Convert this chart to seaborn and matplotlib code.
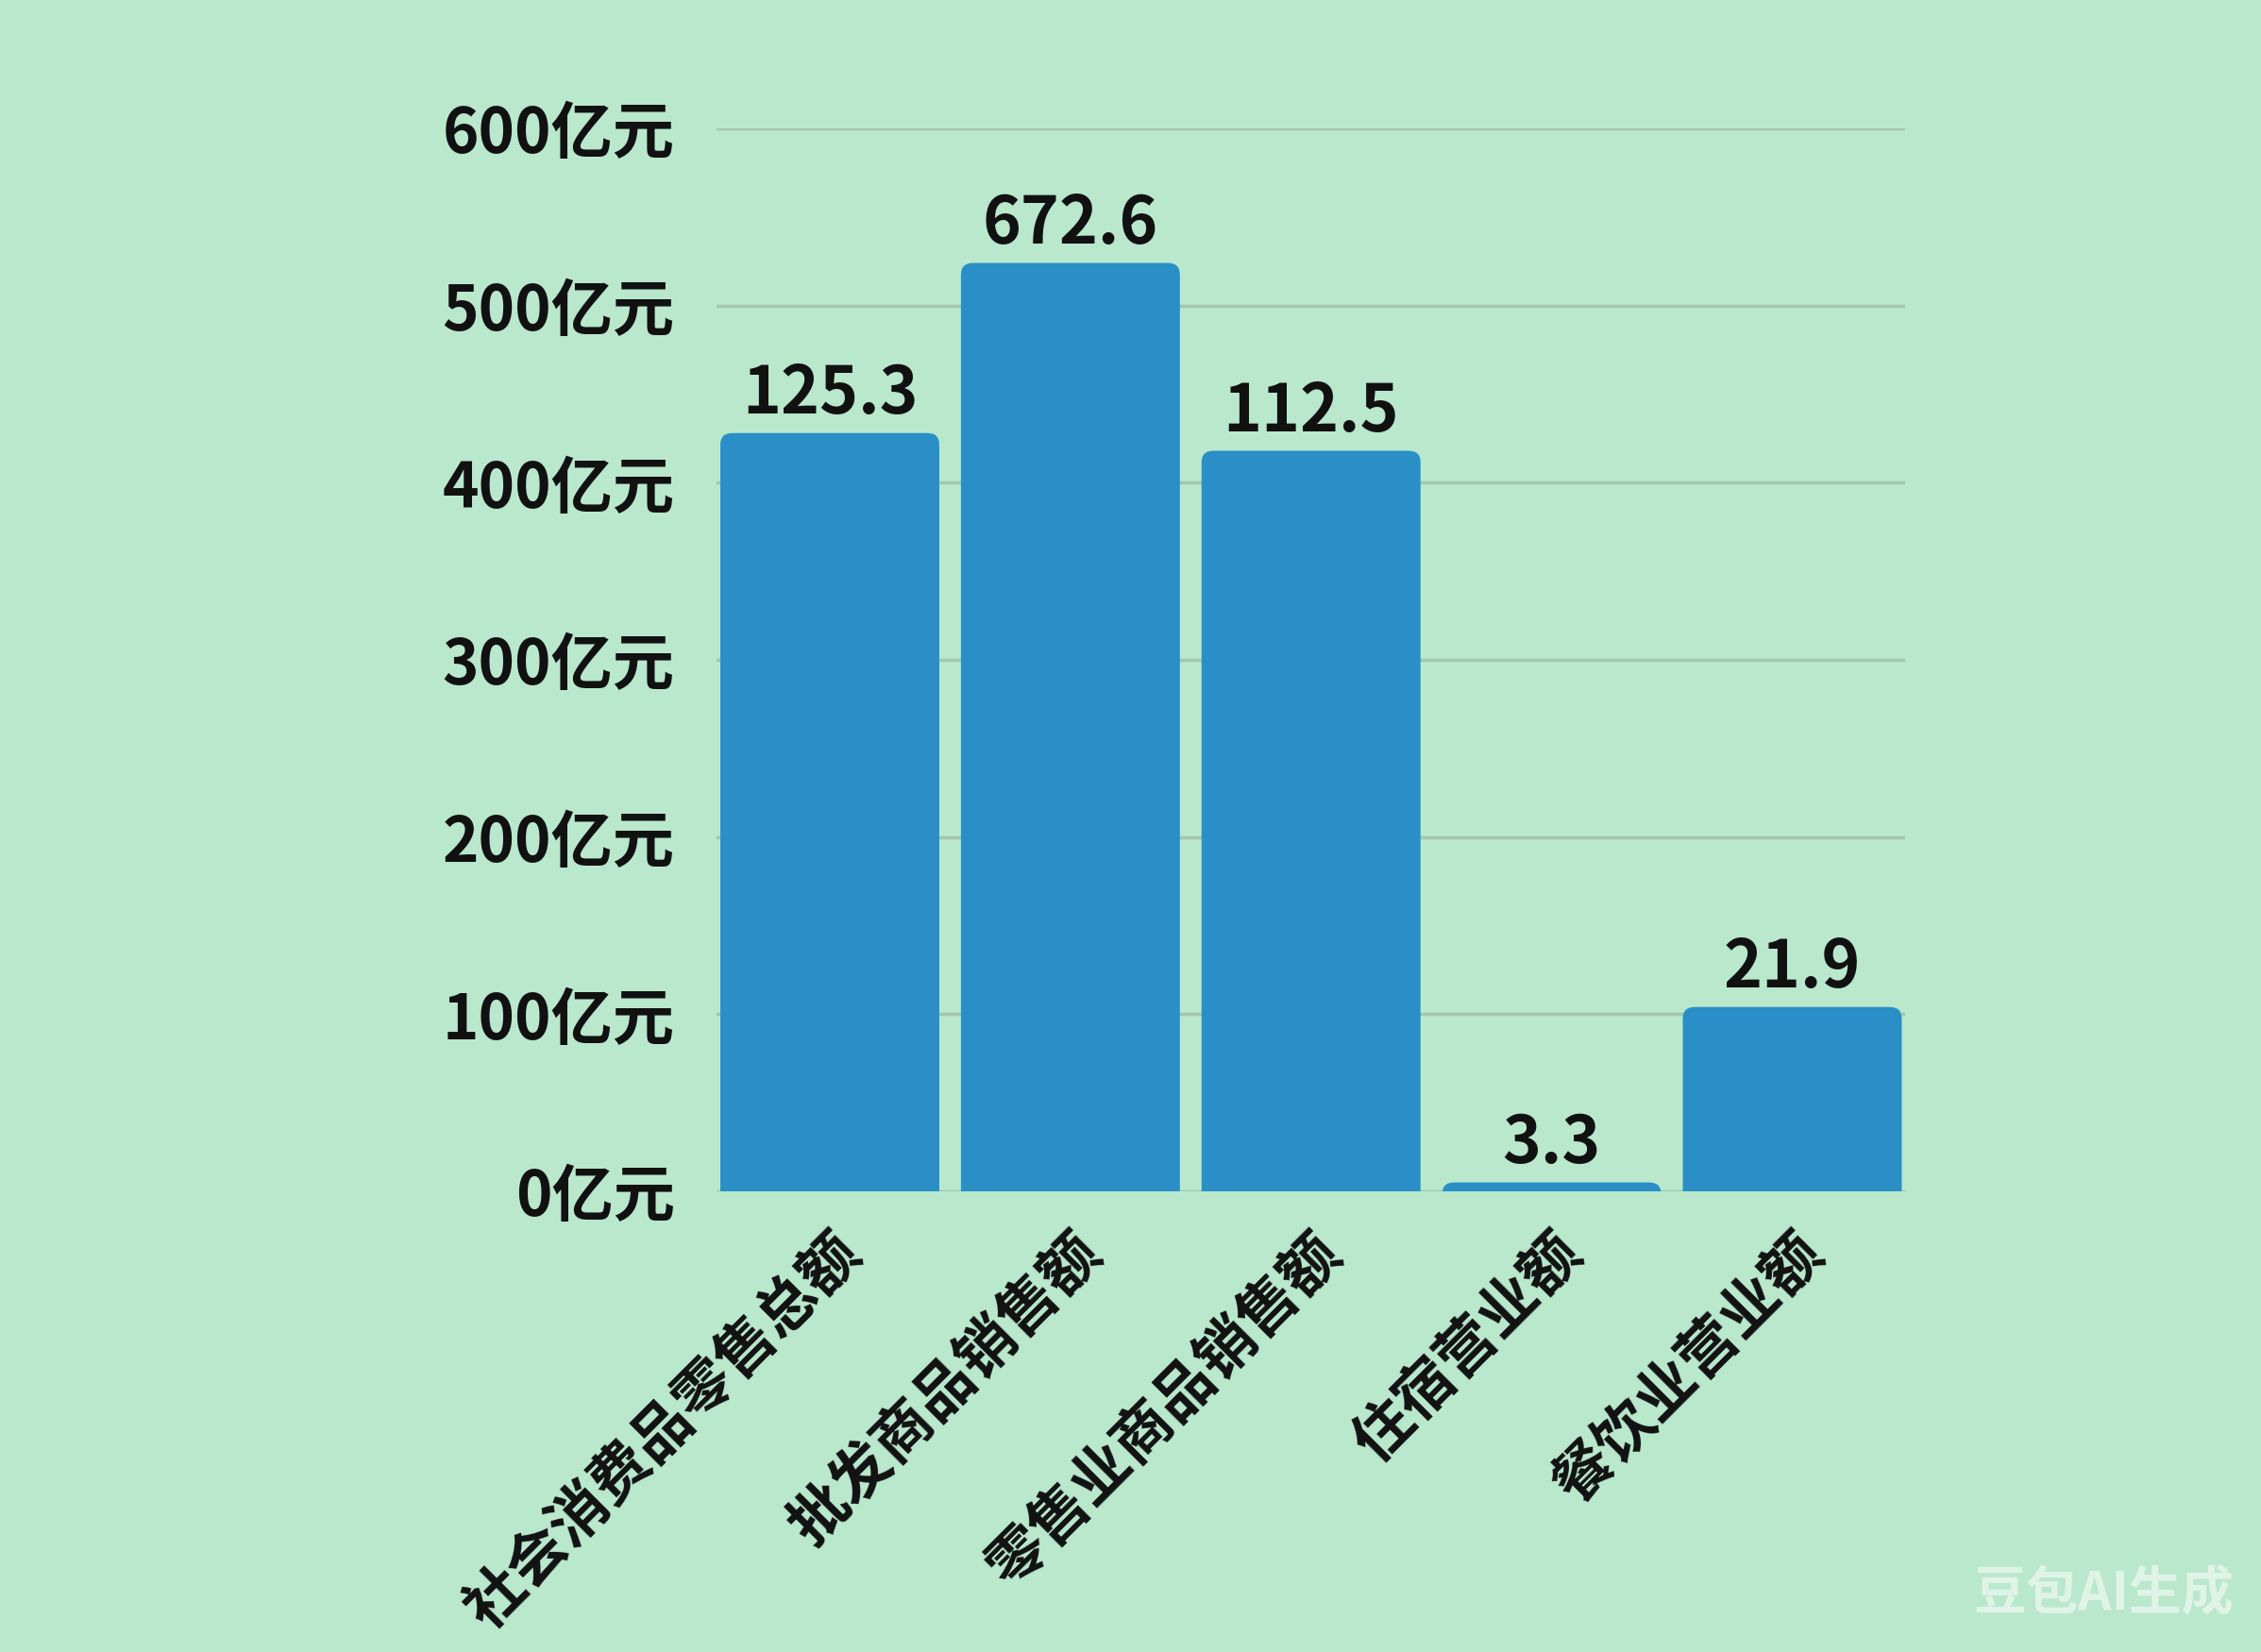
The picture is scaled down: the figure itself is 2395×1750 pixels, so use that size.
import matplotlib
matplotlib.use('Agg')
import matplotlib.pyplot as plt
from matplotlib.patches import FancyBboxPatch
import seaborn as sns
import pandas as pd

# --- Data ---
categories = ['社会消费品零售总额', '批发商品销售额', '零售业商品销售额', '住宿营业额', '餐饮业营业额']
bar_heights = [428, 524, 418, 5, 104]          # drawn height of each bar (亿元 axis)
value_labels = ['125.3', '672.6', '112.5', '3.3', '21.9']  # text printed above each bar
y_ticks = [0, 100, 200, 300, 400, 500, 600]

bg_color = '#b9e8cd'
bar_color = '#2a8fc7'
grid_color = '#a3c7ae'
text_color = '#111111'

sns.set_style('white')
plt.rcParams['font.family'] = ['Noto Sans CJK SC', 'DejaVu Sans']

df = pd.DataFrame({'category': categories, 'height': bar_heights})

fig = plt.figure(figsize=(23.95, 17.5), dpi=100, facecolor=bg_color)
ax = fig.add_axes([0.317, 0.2789, 0.5257, 0.6434])
ax.set_facecolor(bg_color)

sns.barplot(data=df, x='category', y='height', color=bar_color, saturation=1,
            width=0.91, linewidth=0, ax=ax, zorder=3)

ax.set_xlim(-0.47, 4.47)
ax.set_ylim(0, 600)

# swap the plain rectangles for ones with rounded top corners
for p in list(ax.patches):
    x, w, h = p.get_x(), p.get_width(), p.get_height()
    rounded = FancyBboxPatch((x, -10), w, h + 10,
                             boxstyle='round,pad=0,rounding_size=0.05',
                             mutation_aspect=130, facecolor=bar_color,
                             edgecolor='none', zorder=3)
    ax.add_patch(rounded)
    p.remove()

ax.set_yticks(y_ticks)
ax.set_yticklabels([f'{v}亿元' for v in y_ticks], fontsize=47, fontweight='heavy',
                   color=text_color)
ax.set_xticks(range(len(categories)))
ax.set_xticklabels(categories, fontsize=45, fontweight='heavy', rotation=45,
                   ha='right', va='top', rotation_mode='anchor', color=text_color)
ax.tick_params(axis='y', length=0, pad=32)
ax.tick_params(axis='x', length=0, pad=24)
ax.set_xlabel('')
ax.set_ylabel('')

# grid lines
for v in y_ticks:
    ax.axhline(v, color=grid_color, linewidth=2.5, zorder=1)

for s in ax.spines.values():
    s.set_visible(False)

# value labels above bars
for i, (h, txt) in enumerate(zip(bar_heights, value_labels)):
    ax.annotate(txt, (i, h), xytext=(0, 4), textcoords='offset points',
                ha='center', va='bottom', fontsize=50, fontweight='heavy',
                color=text_color, zorder=4, annotation_clip=False)

# watermark
fig.text(0.988, 0.035, '豆包AI生成', ha='right', va='center', fontsize=40,
         fontweight='bold', color='#eef8f1', alpha=0.75)

fig.savefig('out.png', dpi=100, facecolor=bg_color)
